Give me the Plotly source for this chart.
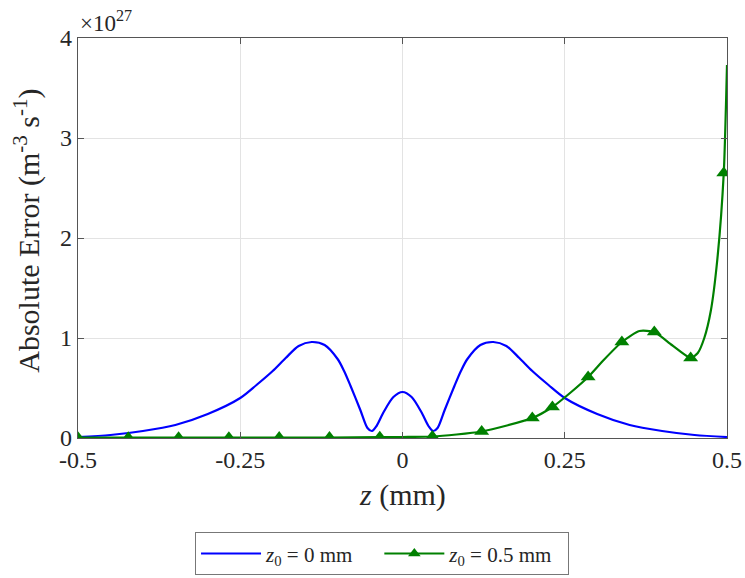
import plotly.graph_objects as go

# Blue series: z0 = 0 mm  (values in units of 1e27)
blue_x = [-0.5, -0.45, -0.4, -0.35, -0.3, -0.25, -0.225, -0.2, -0.18, -0.16, -0.14, -0.12, -0.10, -0.09, -0.08,
          -0.065, -0.054, -0.047, -0.04, -0.029, -0.014, 0.0,
          0.014, 0.029, 0.04, 0.047, 0.054, 0.065, 0.08, 0.09, 0.10, 0.12, 0.14, 0.16, 0.18, 0.2, 0.225,
          0.25, 0.3, 0.35, 0.4, 0.45, 0.5]
blue_y = [0.01, 0.03, 0.07, 0.13, 0.24, 0.40, 0.53, 0.67, 0.80, 0.92, 0.96, 0.93, 0.79, 0.67, 0.52,
          0.28, 0.10, 0.07, 0.12, 0.26, 0.41, 0.46,
          0.41, 0.26, 0.12, 0.07, 0.10, 0.28, 0.52, 0.67, 0.79, 0.93, 0.96, 0.92, 0.80, 0.67, 0.53,
          0.40, 0.24, 0.13, 0.07, 0.03, 0.01]

# Green series: z0 = 0.5 mm (line)
green_x = [-0.5, -0.4225, -0.345, -0.2675, -0.19, -0.1125, -0.035, 0.0, 0.046, 0.122,
           0.2, 0.231, 0.26, 0.286, 0.31, 0.338, 0.365, 0.388, 0.415, 0.444, 0.455,
           0.465, 0.475, 0.485, 0.495, 0.5]
green_y = [0.003, 0.003, 0.003, 0.003, 0.004, 0.005, 0.008, 0.01, 0.015, 0.065,
           0.20, 0.31, 0.46, 0.61, 0.78, 0.96, 1.07, 1.06, 0.93, 0.80, 0.85,
           1.00, 1.27, 1.78, 2.65, 3.73]
# Green marker positions
gm_x = [-0.5, -0.4225, -0.345, -0.2675, -0.19, -0.1125, -0.035, 0.046, 0.122, 0.2,
        0.231, 0.286, 0.338, 0.388, 0.444, 0.495]
gm_y = [0.003, 0.003, 0.003, 0.003, 0.004, 0.005, 0.008, 0.015, 0.065, 0.20,
        0.31, 0.61, 0.96, 1.06, 0.80, 2.65]

x_ticks = [-0.5, -0.25, 0, 0.25, 0.5]
x_tick_labels = ["-0.5", "-0.25", "0", "0.25", "0.5"]
y_ticks = [0, 1, 2, 3, 4]
y_tick_labels = ["0", "1", "2", "3", "4"]

BLUE = "#0000ff"
GREEN = "#008000"
FONT = "Liberation Serif"
TXT = "#262626"

fig = go.Figure()
fig.add_trace(go.Scatter(x=blue_x, y=blue_y, mode="lines",
                         line=dict(color=BLUE, width=2.2, shape="spline", smoothing=0.8),
                         name="<i>z</i><sub>0</sub> = 0 mm    "))
fig.add_trace(go.Scatter(x=green_x, y=green_y, mode="lines",
                         line=dict(color=GREEN, width=2.2, shape="spline", smoothing=0.6),
                         showlegend=False))
fig.add_trace(go.Scatter(x=gm_x, y=gm_y, mode="markers",
                         marker=dict(symbol="triangle-up", size=13, color=GREEN),
                         showlegend=False))
fig.add_trace(go.Scatter(x=[None], y=[None], mode="lines+markers",
                         line=dict(color=GREEN, width=2.2),
                         marker=dict(symbol="triangle-up", size=11, color=GREEN),
                         name="<i>z</i><sub>0</sub> = 0.5 mm  "))

axis_common = dict(showline=True, linecolor="#555555", linewidth=1.3, mirror="ticks",
                   ticks="inside", ticklen=6, tickcolor="#555555", automargin=False,
                   showgrid=True, gridcolor="#e3e3e3", gridwidth=1, zeroline=False,
                   tickfont=dict(family=FONT, size=24, color=TXT))

fig.update_xaxes(range=[-0.5, 0.5], tickvals=x_ticks, ticktext=x_tick_labels, **axis_common)
fig.update_yaxes(range=[0, 4], tickvals=y_ticks, ticktext=y_tick_labels, **axis_common)

# Axis titles
fig.add_annotation(xref="paper", yref="paper", x=0.5, y=-0.1425, xanchor="center", yanchor="middle",
                   text="<i>z</i> (mm)", showarrow=False,
                   font=dict(family=FONT, size=30, color=TXT))
fig.add_annotation(xref="paper", yref="paper", x=-0.079, y=0.5175, xanchor="center", yanchor="middle",
                   text="Absolute Error (m<sup>-3</sup> s<sup>-1</sup>)", showarrow=False, textangle=-90,
                   font=dict(family=FONT, size=30, color=TXT))
# Exponent
fig.add_annotation(xref="paper", yref="paper", x=0, y=1, xanchor="left", yanchor="bottom",
                   text="×10<sup>27</sup>", showarrow=False, yshift=0, xshift=0,
                   font=dict(family=FONT, size=23, color=TXT))

fig.update_layout(
    width=745, height=578,
    margin=dict(l=78, r=18, t=38, b=140),
    plot_bgcolor="white", paper_bgcolor="white",
    font=dict(family=FONT, color=TXT),
    legend=dict(orientation="h", xref="container", yref="container",
                x=0.5128, xanchor="center", y=0.079, yanchor="top",
                bordercolor="#777777", borderwidth=1, bgcolor="white",
                font=dict(family=FONT, size=21, color=TXT), itemwidth=60),
)

fig.write_html("out.html", config={"displayModeBar": False},
               post_script="document.body.style.margin='0';document.body.style.padding='0';")
